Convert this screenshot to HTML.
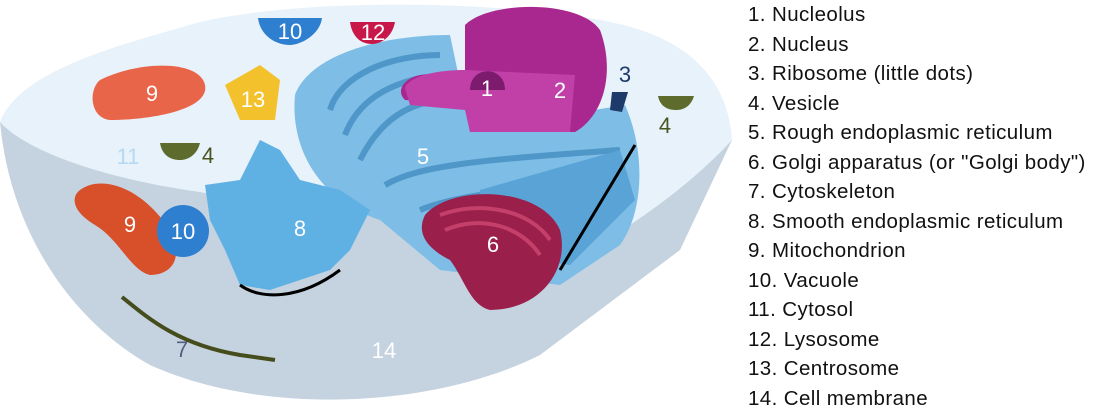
<!DOCTYPE html>
<html><head><meta charset="utf-8"><style>
body{margin:0;background:#fff;width:1116px;height:417px;overflow:hidden;font-family:"Liberation Sans",sans-serif}
svg{position:absolute;left:0;top:0}
.lg{font-size:20.5px;fill:#111;letter-spacing:0.4px}
.n{font-size:22px;fill:#fff;text-anchor:middle;font-weight:normal}
</style></head><body>
<svg width="1116" height="417" viewBox="0 0 1116 417">
<g>
<path d="M0,122 C10,230 70,320 150,365 C260,415 430,410 540,355 L680,250 L732,140 L700,150 C600,230 300,220 0,122 Z" fill="#c5d3e0"/>
<path d="M0,122 C20,70 120,45 200,22 C320,-5 520,3 610,22 C690,38 728,80 732,140 C700,175 660,205 630,225 C500,235 300,210 200,192 C100,178 25,150 0,122 Z" fill="#e8f2fa"/>
</g>
<g>
<path d="M295,95 C310,55 380,35 450,35 L470,130 L625,105 C645,150 645,210 620,245 L560,285 L440,270 L380,220 C320,200 290,150 295,95 Z" fill="#7dbde6"/>
<path d="M330,110 C340,75 390,55 440,55 M345,135 C360,95 400,78 445,75 M360,160 C380,120 410,100 450,100 M385,185 C420,165 480,160 620,150 M420,210 C470,190 540,190 625,180" stroke="#4f97c8" stroke-width="6" fill="none"/>
<path d="M480,190 L620,150 L635,200 L570,265 L480,250 Z" fill="#5aa3d6"/>
<path d="M560,270 L635,145" stroke="#000" stroke-width="3" fill="none"/>
</g>
<g>
<path d="M465,25 C490,0 580,0 600,30 C615,70 605,115 575,132 L470,132 L465,105 L405,100 C395,90 405,78 420,75 L465,70 Z" fill="#a9288f"/>
<path d="M405,88 C410,75 440,70 465,70 L575,75 L570,132 L470,132 L465,110 L410,105 Z" fill="#c040a8"/>
<path d="M470,90 C470,65 505,65 505,90 Z" fill="#7d1c6e"/>
<text class="n" x="487" y="96">1</text>
<text class="n" x="560" y="98">2</text>
</g>
<path d="M612,92 L628,92 L622,112 L610,110 Z" fill="#1d3a6b"/>
<text x="625" y="82" font-size="22" fill="#1d3a6b" text-anchor="middle">3</text>
<g>
<path d="M425,215 C450,185 540,185 560,230 C570,270 540,310 490,310 C470,305 465,280 450,260 C430,250 415,235 425,215 Z" fill="#9a1f4a"/>
<path d="M440,215 C480,200 530,210 550,240 M445,230 C480,215 520,225 540,255" stroke="#c4406a" stroke-width="4" fill="none"/>
<text class="n" x="493" y="252">6</text>
</g>
<g>
<path d="M205,185 L240,180 L260,140 L280,150 L300,180 L340,190 L370,210 L350,250 L330,270 L300,280 L270,290 L240,285 L225,250 L210,220 Z" fill="#5fb0e3"/>
<text class="n" x="300" y="236">8</text>
<path d="M240,285 C260,300 300,300 340,270" stroke="#000" stroke-width="3" fill="none"/>
</g>
<text class="n" x="423" y="164">5</text>
<g>
<path d="M100,80 C140,60 200,60 205,85 C210,110 150,120 110,120 C90,118 88,90 100,80 Z" fill="#e8654a"/>
<text class="n" x="152" y="101">9</text>
</g>
<g>
<path d="M80,190 C100,175 140,185 170,230 C185,260 170,275 150,275 C130,270 120,240 95,225 C70,210 72,196 80,190 Z" fill="#d8502a"/>
<text class="n" x="130" y="232">9</text>
</g>
<g><circle cx="183" cy="231" r="26" fill="#2f7fd0"/><text class="n" x="183" y="239">10</text></g>
<g><path d="M258,18 L322,18 C320,35 300,45 290,45 C275,45 260,35 258,18 Z" fill="#2f7fd0"/><text class="n" x="290" y="39">10</text></g>
<g><path d="M350,22 L395,22 C392,38 380,44 372,44 C360,44 352,36 350,22 Z" fill="#c8184a"/><text class="n" x="373" y="40">12</text></g>
<g><path d="M225,85 L260,65 L280,80 L275,120 L240,120 Z" fill="#f2c12c"/><text class="n" x="253" y="107">13</text></g>
<g><path d="M160,143 L200,143 C197,155 188,160 180,160 C170,160 162,155 160,143 Z" fill="#5d6b2d"/><text x="208" y="163" font-size="22" fill="#4a5420" text-anchor="middle">4</text></g>
<g><path d="M658,96 L694,96 C691,106 684,110 676,110 C667,110 660,106 658,96 Z" fill="#5d6b2d"/><text x="665" y="133" font-size="22" fill="#4a5420" text-anchor="middle">4</text></g>
<text x="128" y="164" font-size="22" fill="#b6d9f2" text-anchor="middle">11</text>
<path d="M122,297 C150,320 180,345 240,355 L275,360" stroke="#454d1c" stroke-width="4" fill="none"/>
<text x="182" y="357" font-size="22" fill="#556080" text-anchor="middle">7</text>
<text x="384" y="358" font-size="22" fill="#fff" text-anchor="middle">14</text>
<g>
<text class="lg" x="748" y="21">1. Nucleolus</text>
<text class="lg" x="748" y="51">2. Nucleus</text>
<text class="lg" x="748" y="80">3. Ribosome (little dots)</text>
<text class="lg" x="748" y="110">4. Vesicle</text>
<text class="lg" x="748" y="139">5. Rough endoplasmic reticulum</text>
<text class="lg" x="748" y="169">6. Golgi apparatus (or "Golgi body")</text>
<text class="lg" x="748" y="198">7. Cytoskeleton</text>
<text class="lg" x="748" y="228">8. Smooth endoplasmic reticulum</text>
<text class="lg" x="748" y="257">9. Mitochondrion</text>
<text class="lg" x="748" y="287">10. Vacuole</text>
<text class="lg" x="748" y="316">11. Cytosol</text>
<text class="lg" x="748" y="346">12. Lysosome</text>
<text class="lg" x="748" y="375">13. Centrosome</text>
<text class="lg" x="748" y="405">14. Cell membrane</text>
</g>
</svg>
</body></html>
